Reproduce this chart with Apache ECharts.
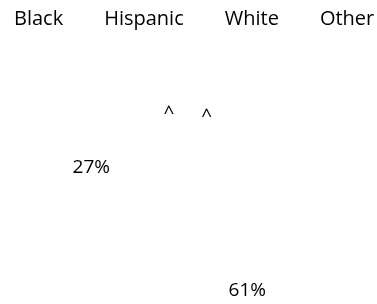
<!DOCTYPE html>
<html>
<head>
<meta charset="utf-8">
<script src="https://cdn.jsdelivr.net/npm/echarts@6/dist/echarts.min.js"></script>
<style>
  html, body { margin: 0; padding: 0; background: #fff; }
  #chart { width: 377px; height: 304px; }
</style>
</head>
<body>
<div id="chart"></div>
<script>
// groups and their shares (%)
const categories = ["Black", "Hispanic", "White", "Other"];
const shares = [4, 8, 61, 27];

const chart = echarts.init(document.getElementById("chart"));

chart.setOption({
  animation: false,
  textStyle: { fontFamily: "Open Sans", color: "#000" },
  legend: {
    data: categories,
    top: 4,
    left: 2,
    padding: [5, 0],
    icon: "rect",
    itemWidth: 7,
    itemHeight: 7,
    itemGap: 29,
    textStyle: { fontSize: 20, color: "#000" }
  },
  series: [
    {
      type: "pie",
      center: [181, 214],
      radius: [56, 140],
      startAngle: 104,
      clockwise: true,
      avoidLabelOverlap: false,
      // slices are white on white, only the labels show
      itemStyle: { color: "#fff", borderWidth: 0 },
      emphasis: { disabled: true },
      label: {
        show: true,
        position: "inside",
        fontSize: 19,
        color: "#000",
        formatter: function (p) {
          return p.percent < 10 ? "^" : Math.round(p.percent) + "%";
        }
      },
      labelLine: { show: false },
      data: categories.map(function (name, i) {
        return { name: name, value: shares[i] };
      })
    }
  ]
});
</script>
</body>
</html>
